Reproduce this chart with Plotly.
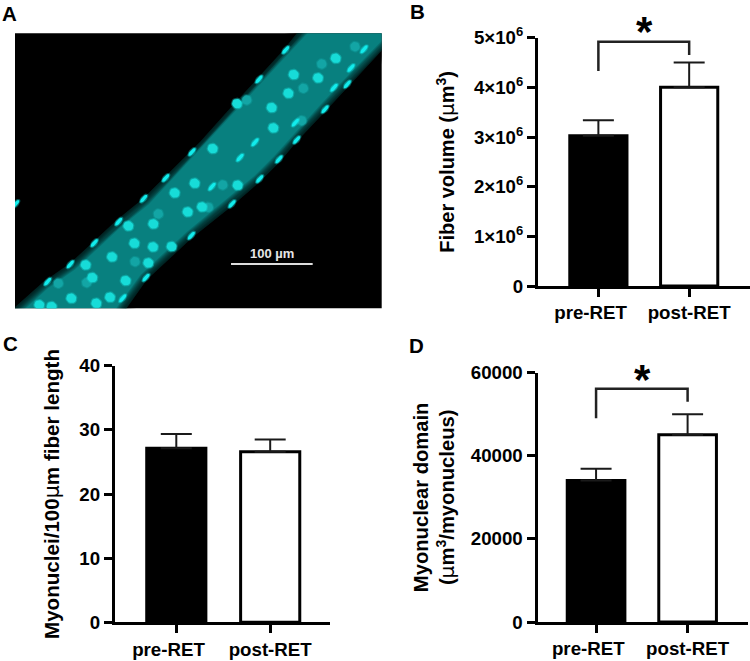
import plotly.graph_objects as go
import numpy as np

W, H = 750, 661
FONT = "Liberation Sans"

categories = ["pre-RET", "post-RET"]
tick_labels = ["pre-RET\u00a0\u00a0\u00a0", "post-RET"]
b_values = [3.025e6, 4.0e6]
b_errors = [0.315e6, 0.50e6]
c_values = [27.14, 26.6]
c_errors = [2.2, 1.9]
d_values = [34050, 45050]
d_errors = [2850, 4940]

b_ticks = [0, 1e6, 2e6, 3e6, 4e6, 5e6]
b_ticktext = ["0", "1×10<sup>6</sup>", "2×10<sup>6</sup>", "3×10<sup>6</sup>", "4×10<sup>6</sup>", "5×10<sup>6</sup>"]
c_ticks = [0, 10, 20, 30, 40]
d_ticks = [0, 20000, 40000, 60000]

# significance brackets (value units)
b_bracket = [4.33e6, 4.92e6, 4.92e6, 4.65e6]
d_bracket = [49030, 56150, 56150, 53020]
bracket_x = ["pre-RET", "pre-RET", "post-RET", "post-RET"]

fiber_upper = [(945, 40), (890, 100), (850, 150), (780, 228), (690, 325), (600, 425), (500, 525),
               (430, 595), (350, 660), (280, 725), (210, 790), (130, 845), (45, 920), (-15, 975)]
fiber_lower = [(335, 985), (380, 925), (440, 840), (575, 715), (700, 615), (780, 545), (840, 485), (890, 425),
               (975, 335), (1045, 260), (1145, 152), (1210, 90), (1210, 40)]
round_bright = [(1007, 175), (881, 224), (954, 234), (865, 280), (815, 323), (820, 384), (638, 446),
                (584, 550), (524, 579), (713, 556), (563, 636), (606, 621), (460, 672), (385, 678),
                (403, 730), (459, 741), (515, 740), (336, 771), (445, 789), (257, 795), (377, 842),
                (277, 833), (330, 892), (214, 895), (289, 910), (118, 915), (155, 920), (711, 311)]
round_dim = [(1065, 140), (910, 265), (740, 300), (175, 850), (260, 848), (475, 642), (625, 622),
             (668, 555), (405, 785), (905, 362), (965, 192)]
elongated = [(857, 150), (777, 238), (576, 456), (497, 534), (431, 596), (356, 665), (283, 729),
             (211, 793), (143, 845), (1092, 148), (1053, 204), (1002, 263), (1042, 253), (975, 328),
             (886, 368), (890, 420), (837, 478), (765, 427), (720, 473), (779, 537), (696, 612),
             (636, 560), (574, 707), (438, 833), (368, 895), (47, 612)]
scale_x = [693, 938]
scale_y = [792, 792]


def ellipses(points, a, b, angle):
    t = np.linspace(0, 2 * np.pi, 20)
    xs, ys = [], []
    ca, sa = np.cos(angle), np.sin(angle)
    for (px, py) in points:
        ex, ey = a * np.cos(t), b * np.sin(t)
        xs += list(px + ex * ca - ey * sa) + [None]
        ys += list(py - ex * sa - ey * ca) + [None]
    return xs, ys


def xd(a, b):
    return [a / W, b / W]


def yd(top, bottom):
    return [1 - bottom / H, 1 - top / H]


fig = go.Figure()

tf = dict(family=FONT, size=18.7, color="black", weight="bold")
MU = '<span style="font-weight:normal;font-family:\'DejaVu Sans\'">μ</span>'
LW = 3

panels = [
    dict(x="x", y="y", vals=b_values, errs=b_errors, xdom=xd(538, 750), ydom=yd(37.7, 286),
         xrange=[-0.665, 1.67], yrange=[0, 5e6], ticks=b_ticks, text=b_ticktext,
         title=f"Fiber volume ({MU}m<sup>3</sup>)", standoff=14, tsize=20),
    dict(x="x2", y="y2", vals=c_values, errs=c_errors, xdom=xd(114.8, 330), ydom=yd(365.7, 622.3),
         xrange=[-0.655, 1.637], yrange=[0, 40], ticks=c_ticks, text=[str(v) for v in c_ticks],
         title=f"Myonuclei/100{MU}m fiber length", standoff=15, tsize=20.6),
    dict(x="x3", y="y3", vals=d_values, errs=d_errors, xdom=xd(537.5, 748), ydom=yd(372.7, 622),
         xrange=[-0.64, 1.66], yrange=[0, 60000], ticks=d_ticks, text=[str(v) for v in d_ticks],
         title=f"Myonuclear domain<br>({MU}m<sup>3</sup>/myonucleus)", standoff=11, tsize=20.2),
]

layout_axes = {}
for i, p in enumerate(panels):
    fig.add_trace(go.Bar(
        x=categories, y=p["vals"], xaxis=p["x"], yaxis=p["y"], width=0.63,
        marker=dict(color=["black", "white"], line=dict(color="black", width=LW)),
        error_y=dict(type="data", symmetric=False, array=p["errs"], arrayminus=[0, 0],
                     color="#1a1a1a", thickness=2, width=15.5),
        showlegend=False, hoverinfo="skip"))
    n = "" if i == 0 else str(i + 1)
    layout_axes["xaxis" + n] = dict(
        domain=p["xdom"], range=p["xrange"], anchor=p["y"], type="category", showgrid=False, zeroline=False,
        showline=True, linecolor="black", linewidth=LW, ticks="outside", ticklen=8, tickwidth=2.5,
        tickcolor="black", tickfont=tf, tickvals=categories, ticktext=tick_labels, automargin=False)
    layout_axes["yaxis" + n] = dict(
        domain=p["ydom"], range=p["yrange"], anchor=p["x"], showgrid=False, zeroline=False,
        showline=True, linecolor="black", linewidth=LW, ticks="outside", ticklen=8, tickwidth=2.5,
        tickcolor="black", tickfont=tf, tickvals=p["ticks"], ticktext=p["text"], automargin=False,
        title=dict(text=p["title"], standoff=p["standoff"],
                   font=dict(family=FONT, size=p["tsize"], color="black", weight="bold")))

for bracket, ax, ay in ((b_bracket, "x", "y"), (d_bracket, "x3", "y3")):
    fig.add_trace(go.Scatter(x=bracket_x, y=bracket, xaxis=ax, yaxis=ay, mode="lines",
                             line=dict(color="#222222", width=2.5), showlegend=False, hoverinfo="skip"))

# Panel A micrograph
band_x = [p[0] for p in fiber_upper] + [p[0] for p in fiber_lower] + [fiber_upper[0][0]]
band_y = [p[1] for p in fiber_upper] + [p[1] for p in fiber_lower] + [fiber_upper[0][1]]
fig.add_trace(go.Scatter(x=band_x, y=band_y, xaxis="x4", yaxis="y4", mode="lines", fill="toself",
                         fillcolor="#08807f", line=dict(width=0),
                         showlegend=False, hoverinfo="skip"))
for w in (16, 14, 12, 10, 8, 6, 4, 2):
    fig.add_trace(go.Scatter(x=band_x, y=band_y, xaxis="x4", yaxis="y4", mode="lines",
                             line=dict(color="rgba(0,0,0,0.15)", width=w),
                             showlegend=False, hoverinfo="skip"))
for pts, a, b, ang, col, glow in (
        (round_dim, 14, 14, 0, "#13a5a5", "rgba(19,165,165,0.3)"),
        (round_bright, 15, 14, -0.5, "#17dcd8", "rgba(23,220,216,0.3)"),
        (elongated, 15, 5.5, 0.85, "#12ecec", "rgba(18,236,236,0.28)")):
    for grow in (4, 2):
        hx, hy = ellipses(pts, a + grow, b + grow, ang)
        fig.add_trace(go.Scatter(x=hx, y=hy, xaxis="x4", yaxis="y4", mode="lines", fill="toself",
                                 fillcolor=glow, line=dict(width=0), showlegend=False, hoverinfo="skip"))
    ex, ey = ellipses(pts, a, b, ang)
    fig.add_trace(go.Scatter(x=ex, y=ey, xaxis="x4", yaxis="y4", mode="lines", fill="toself",
                             fillcolor=col, line=dict(width=0), showlegend=False, hoverinfo="skip"))
fig.add_trace(go.Scatter(x=scale_x, y=scale_y, xaxis="x4", yaxis="y4", mode="lines",
                         line=dict(color="#dddddd", width=2), showlegend=False, hoverinfo="skip"))

layout_axes["xaxis4"] = dict(domain=xd(15, 381.7), range=[45, 1145], anchor="y4", visible=False, automargin=False)
layout_axes["yaxis4"] = dict(domain=yd(33.3, 308.3), range=[925, 100], anchor="x4", visible=False, automargin=False)

ann = [
    dict(x=817, y=760, xref="x4", yref="y4", text="100 µm", showarrow=False,
         font=dict(family=FONT, size=13, color="#e6e6e6", weight="bold")),
]
for t, x, y in (("A", 9, 14), ("B", 417, 11), ("C", 10, 343), ("D", 416, 345)):
    ann.append(dict(x=x / W, y=1 - y / H, xref="paper", yref="paper", text=t, showarrow=False,
                    xanchor="center", yanchor="middle",
                    font=dict(family=FONT, size=20.5, color="black", weight="bold")))
for x, y in ((644, 31), (642, 379)):
    ann.append(dict(x=x / W, y=1 - y / H, xref="paper", yref="paper", text="*", showarrow=False,
                    xanchor="center", yanchor="middle",
                    font=dict(family=FONT, size=42, color="black", weight="bold")))

fig.update_layout(width=W, height=H, margin=dict(l=0, r=0, t=0, b=0), paper_bgcolor="white",
                  plot_bgcolor="white", showlegend=False, annotations=ann,
                  shapes=[dict(type="rect", xref="x4 domain", yref="y4 domain", x0=0, x1=1, y0=0, y1=1,
                               fillcolor="black", line=dict(width=0), layer="below")],
                  **layout_axes)

fig.write_html("out.html", config=dict(displayModeBar=False),
               post_script="document.body.style.margin='0';")
